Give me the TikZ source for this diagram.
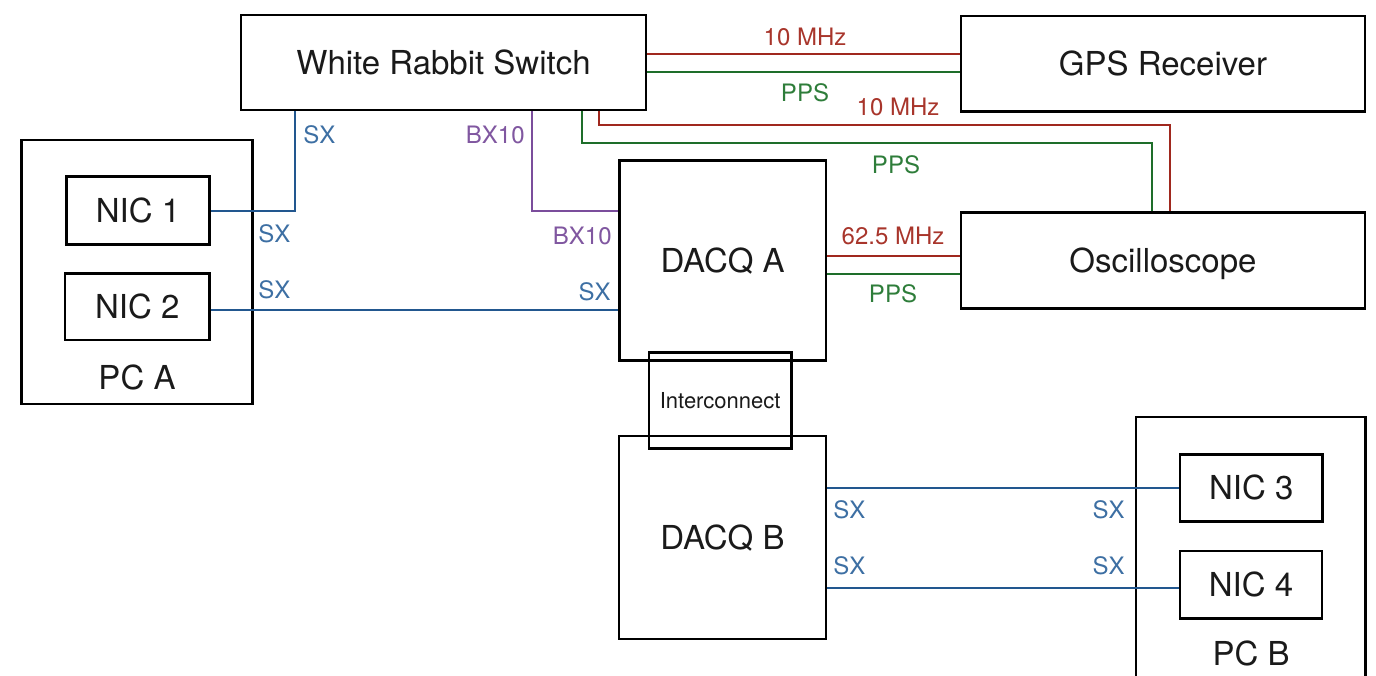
\documentclass[tikz,border=0pt]{standalone}
\usepackage{fontspec}
\setmainfont{TeX Gyre Heros}
\definecolor{wred}{HTML}{A0281E}
\definecolor{wgreen}{HTML}{1E6E2A}
\definecolor{wblue}{HTML}{22578F}
\definecolor{wpurple}{HTML}{7B4D9C}
\definecolor{lred}{HTML}{A8352B}
\definecolor{lgreen}{HTML}{2E7D3A}
\definecolor{lblue}{HTML}{3D6FA3}
\definecolor{lpurple}{HTML}{8057A0}
\definecolor{ink}{HTML}{1A1A1A}
\begin{document}
\begin{tikzpicture}[x=0.5pt,y=-0.5pt,
  box/.style={draw=black, line width=1.3pt, inner sep=0pt, text=ink,
    font=\fontsize{16.5}{19.5}\selectfont, text height=11.85pt, text depth=0pt},
  smallbox/.style={box, font=\fontsize{11}{13}\selectfont, text height=7.9pt},
  boxtitle/.style={inner sep=0pt, text=ink, font=\fontsize{16.5}{19.5}\selectfont,
    text height=11.85pt, text depth=0pt},
  lbl/.style={inner sep=0pt, font=\fontsize{12}{14}\selectfont, text height=8.6pt, text depth=0pt},
  wire/.style={line width=1pt},
  sxw/.style={wire, draw=wblue},
  bxw/.style={wire, draw=wpurple},
  mhzw/.style={wire, draw=wred},
  ppsw/.style={wire, draw=wgreen},
  sxl/.style={lbl, text=lblue},
  bxl/.style={lbl, text=lpurple},
  mhzl/.style={lbl, text=lred},
  ppsl/.style={lbl, text=lgreen}]
\useasboundingbox (0,0) rectangle (1376,675);
\begin{scope}
\clip (0,0) rectangle (1376,675);
% boxes
\node[box, minimum width=202.5pt, minimum height=47.5pt] (wrs) at (443.5,62.5) {White Rabbit Switch};
\node[box, minimum width=202pt, minimum height=47.85pt] (gps) at (1163,63.8) {GPS Receiver};
\node[box, minimum width=202pt, minimum height=47.8pt] (osc) at (1163,260.5) {Oscilloscope};
\node[box, minimum width=103.35pt, minimum height=100pt] (dacqa) at (722.65,260.7) {DACQ A};
\node[box, minimum width=103.5pt, minimum height=101.5pt] (dacqb) at (722.5,537.5) {DACQ B};
\node[smallbox, minimum width=71.15pt, minimum height=47.9pt] (inter) at (720.15,400.6) {Interconnect};
\node[box, minimum width=115.5pt, minimum height=132pt] (pca) at (137.2,272) {};
\node[boxtitle] (pcatitle) at (137,378) {PC A};
\node[box, minimum width=71.3pt, minimum height=33.8pt] (nic1) at (138,210.5) {NIC 1};
\node[box, minimum width=72.2pt, minimum height=33.4pt] (nic2) at (137.2,306.7) {NIC 2};
\node[box, minimum width=114.85pt, minimum height=150pt] (pcb) at (1250.8,567) {};
\node[boxtitle] (pcbtitle) at (1251,654) {PC B};
\node[box, minimum width=71.35pt, minimum height=33.7pt] (nic3) at (1251.3,488) {NIC 3};
\node[box, minimum width=71pt, minimum height=33.65pt] (nic4) at (1251,584.7) {NIC 4};
% connectors
\draw[sxw] (nic1.east) -| ([xshift=27.85pt]wrs.south west);
\draw[bxw] ([xshift=146pt]wrs.south west) |- (nic1.east -| dacqa.west);
\draw[sxw] ([yshift=-1.6pt]nic2.east) coordinate (n2e) -- (n2e -| dacqa.west);
\draw[mhzw] ([yshift=4.25pt]wrs.east) coordinate (w1) -- (w1 -| gps.west);
\draw[ppsw] ([yshift=-4.6pt]wrs.east) coordinate (w2) -- (w2 -| gps.west);
\draw[mhzw] ([xshift=179.5pt]wrs.south west) |- ([xshift=105.35pt,yshift=43.35pt]osc.north west) -- ([xshift=105.35pt]osc.north west);
\draw[ppsw] ([xshift=171.15pt]wrs.south west) |- ([xshift=96.35pt,yshift=34.35pt]osc.north west) -- ([xshift=96.35pt]osc.north west);
\draw[mhzw] ([yshift=2.35pt]dacqa.east) coordinate (d1) -- (d1 -| osc.west);
\draw[ppsw] ([yshift=-6.65pt]dacqa.east) coordinate (d2) -- (d2 -| osc.west);
\draw[sxw] (nic3.west -| dacqb.east) -- (nic3.west);
\draw[sxw] ([yshift=-1.4pt]nic4.west) coordinate (n4w) -- (n4w -| dacqb.east);
% labels
\node[mhzl] (l10a) at (805,36.7) {10 MHz};
\node[ppsl] (lppsa) at (805,93.3) {PPS};
\node[mhzl] (l10b) at (898,106.7) {10 MHz};
\node[ppsl] (lppsb) at (896,165) {PPS};
\node[mhzl] (l625) at (893,236) {62.5 MHz};
\node[ppsl] (lppsc) at (893,294) {PPS};
\node[sxl, anchor=west] (lsx1) at (303,135) {SX};
\node[bxl, anchor=east] (lbx1) at (525,135) {BX10};
\node[sxl, anchor=west] (lsx2) at (258,234.3) {SX};
\node[sxl, anchor=west] (lsx3) at (258,290) {SX};
\node[bxl, anchor=east] (lbx2) at (612,235.4) {BX10};
\node[sxl, anchor=east] (lsx4) at (611,291.5) {SX};
\node[sxl, anchor=west] (lsx5) at (833,510) {SX};
\node[sxl, anchor=west] (lsx6) at (833,566) {SX};
\node[sxl, anchor=east] (lsx7) at (1125,510) {SX};
\node[sxl, anchor=east] (lsx8) at (1125,566) {SX};
\end{scope}
\end{tikzpicture}
\end{document}
